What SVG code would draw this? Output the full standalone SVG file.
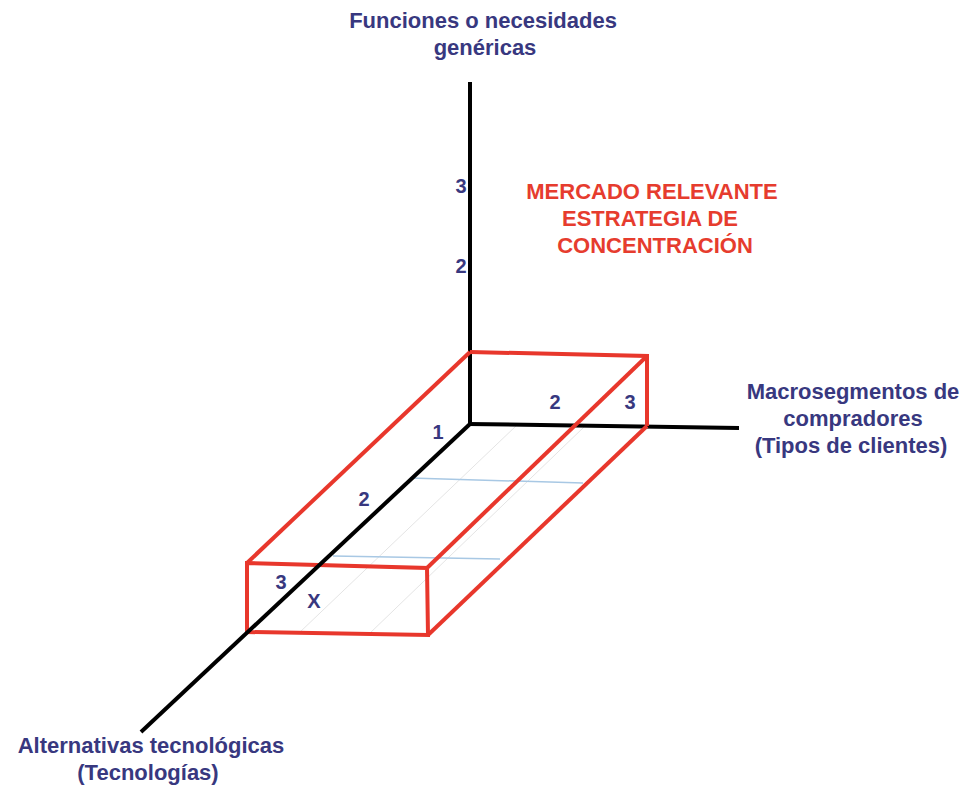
<svg xmlns="http://www.w3.org/2000/svg" width="966" height="789" viewBox="0 0 966 789">
  <style>
    .lbl { font-family: "Liberation Sans", Arial, sans-serif; font-weight: bold; fill: #38387f; font-size: 22px; text-anchor: middle; }
    .num { font-family: "Liberation Sans", Arial, sans-serif; font-weight: bold; fill: #38387f; font-size: 20px; text-anchor: middle; }
    .red { font-family: "Liberation Sans", Arial, sans-serif; font-weight: bold; fill: #e63c2e; font-size: 22px; text-anchor: middle; }
    .axis { stroke: #000; stroke-width: 4; stroke-linecap: butt; fill: none; }
    .box { stroke: #e8372c; stroke-width: 4; fill: none; stroke-linejoin: miter; }
    .grid { stroke: #a8c8e4; stroke-width: 1.5; fill: none; }
    .faint { stroke: #e4e4e4; stroke-width: 1; fill: none; }
  </style>
  <rect width="966" height="789" fill="#ffffff"/>

  <g id="grid">
    <line class="faint" x1="517" y1="425" x2="299" y2="633"/>
    <line class="faint" x1="585" y1="426" x2="368" y2="635"/>
    <line class="grid" x1="410" y1="478" x2="583" y2="483"/>
    <line class="grid" x1="333" y1="556" x2="500" y2="559"/>
  </g>

  <g id="connectors">
    <line class="axis" x1="470" y1="82" x2="470" y2="426"/>
    <line class="axis" x1="468" y1="424" x2="739" y2="428"/>
  </g>

  <g id="box">
    <polyline class="box" points="470,352 647,356 647,426"/>
    <line class="box" x1="470" y1="352" x2="247" y2="563"/>
    <line class="box" x1="647" y1="356" x2="427" y2="568"/>
    <line class="box" x1="647" y1="426" x2="428" y2="635"/>
    <polygon class="box" points="247,563 427,568 428,635 247,632"/>
  </g>

  <g id="axis-diagonal">
    <line class="axis" x1="470" y1="424" x2="141" y2="732"/>
  </g>

  <g id="label-funciones">
    <text class="lbl" x="483" y="28">Funciones o necesidades</text>
    <text class="lbl" x="485" y="55">genéricas</text>
  </g>
  <g id="label-macrosegmentos">
    <text class="lbl" x="853" y="399">Macrosegmentos de</text>
    <text class="lbl" x="853" y="426">compradores</text>
    <text class="lbl" x="851" y="453">(Tipos de clientes)</text>
  </g>
  <g id="label-alternativas">
    <text class="lbl" x="151" y="753">Alternativas tecnológicas</text>
    <text class="lbl" x="148" y="780">(Tecnologías)</text>
  </g>
  <g id="label-mercado">
    <text class="red" x="652" y="199">MERCADO RELEVANTE</text>
    <text class="red" x="650" y="226">ESTRATEGIA DE</text>
    <text class="red" x="655" y="253">CONCENTRACIÓN</text>
  </g>

  <g id="numbers">
    <text class="num" x="461" y="193">3</text>
    <text class="num" x="461" y="273">2</text>
    <text class="num" x="438" y="439">1</text>
    <text class="num" x="555" y="409">2</text>
    <text class="num" x="630" y="409">3</text>
    <text class="num" x="364" y="506">2</text>
    <text class="num" x="281" y="589">3</text>
    <text class="num" x="314" y="608">X</text>
  </g>
</svg>
